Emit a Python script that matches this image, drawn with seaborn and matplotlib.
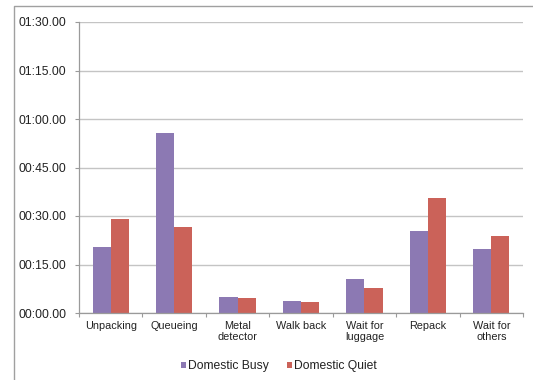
import matplotlib
matplotlib.use("Agg")
import matplotlib.pyplot as plt
from matplotlib.ticker import FuncFormatter, FixedLocator
from matplotlib.lines import Line2D
from matplotlib.patches import Patch
import seaborn as sns
import pandas as pd

categories = ["Unpacking", "Queueing", "Metal\ndetector", "Walk back",
              "Wait for\nluggage", "Repack", "Wait for\nothers"]
busy_seconds = [20.3, 55.6, 4.9, 3.8, 10.4, 25.5, 19.8]
quiet_seconds = [29.1, 26.6, 4.5, 3.5, 7.6, 35.5, 23.9]
series_names = ["Domestic Busy", "Domestic Quiet"]
series_colors = ["#8C79B3", "#CB6259"]

df = pd.DataFrame({
    "Step": categories * 2,
    "Seconds": busy_seconds + quiet_seconds,
    "Series": [series_names[0]] * len(categories) + [series_names[1]] * len(categories),
})

sns.set_theme(style="white")
plt.rcParams["font.family"] = ["Liberation Sans", "DejaVu Sans"]

fig = plt.figure(figsize=(5.33, 3.80), dpi=100)
ax = fig.add_axes([79 / 533, 1 - 313 / 380, (523 - 79) / 533, (313 - 22) / 380])

sns.barplot(data=df, x="Step", y="Seconds", hue="Series", order=categories,
            hue_order=series_names, palette=series_colors, width=0.57, gap=0,
            saturation=1, linewidth=0, legend=False, ax=ax)

ax.set_ylim(0, 90)
ax.set_xlim(-0.5, len(categories) - 0.5)
ax.yaxis.set_major_locator(FixedLocator([0, 15, 30, 45, 60, 75, 90]))
ax.yaxis.set_major_formatter(
    FuncFormatter(lambda v, _: f"{int(v // 60):02d}:{int(round(v % 60)):02d}.00"))
ax.grid(axis="y", color="#c4c4c4", linewidth=1.0)
ax.set_axisbelow(True)
ax.set_xlabel("")
ax.set_ylabel("")

for side in ["top", "right"]:
    ax.spines[side].set_visible(False)
for side in ["left", "bottom"]:
    ax.spines[side].set_color("#9a9a9a")
    ax.spines[side].set_linewidth(0.9)

# category labels centered under groups, tick marks on group boundaries
ax.set_xticks(range(len(categories)))
ax.set_xticklabels(categories, fontsize=7.8, color="#222222", linespacing=1.1)
ax.tick_params(axis="x", length=0, pad=6)
ax.set_xticks([i - 0.5 for i in range(len(categories) + 1)], minor=True)
ax.tick_params(axis="x", which="minor", length=3, color="#9a9a9a", width=0.8,
               direction="out", bottom=True)
ax.tick_params(axis="y", length=3, color="#9a9a9a", width=0.8, direction="out",
               labelsize=8.7, labelcolor="#222222", pad=6, left=True)

handles = [Patch(facecolor=c, edgecolor="none", label=n)
           for c, n in zip(series_colors, series_names)]
fig.legend(handles=handles, loc="center", bbox_to_anchor=(279 / 533, 1 - 366 / 380),
           ncol=2, frameon=False, fontsize=8.7, handlelength=0.4,
           handleheight=0.4, handletextpad=0.2, columnspacing=1.45,
           labelcolor="#222222")

# outer frame line along the top and left
fig.add_artist(Line2D([14 / 533, 14 / 533, 1.0], [0.0, 1 - 6 / 380, 1 - 6 / 380],
                      transform=fig.transFigure, color="#a0a0a0", linewidth=1.0))

fig.savefig("out.png", dpi=100)
